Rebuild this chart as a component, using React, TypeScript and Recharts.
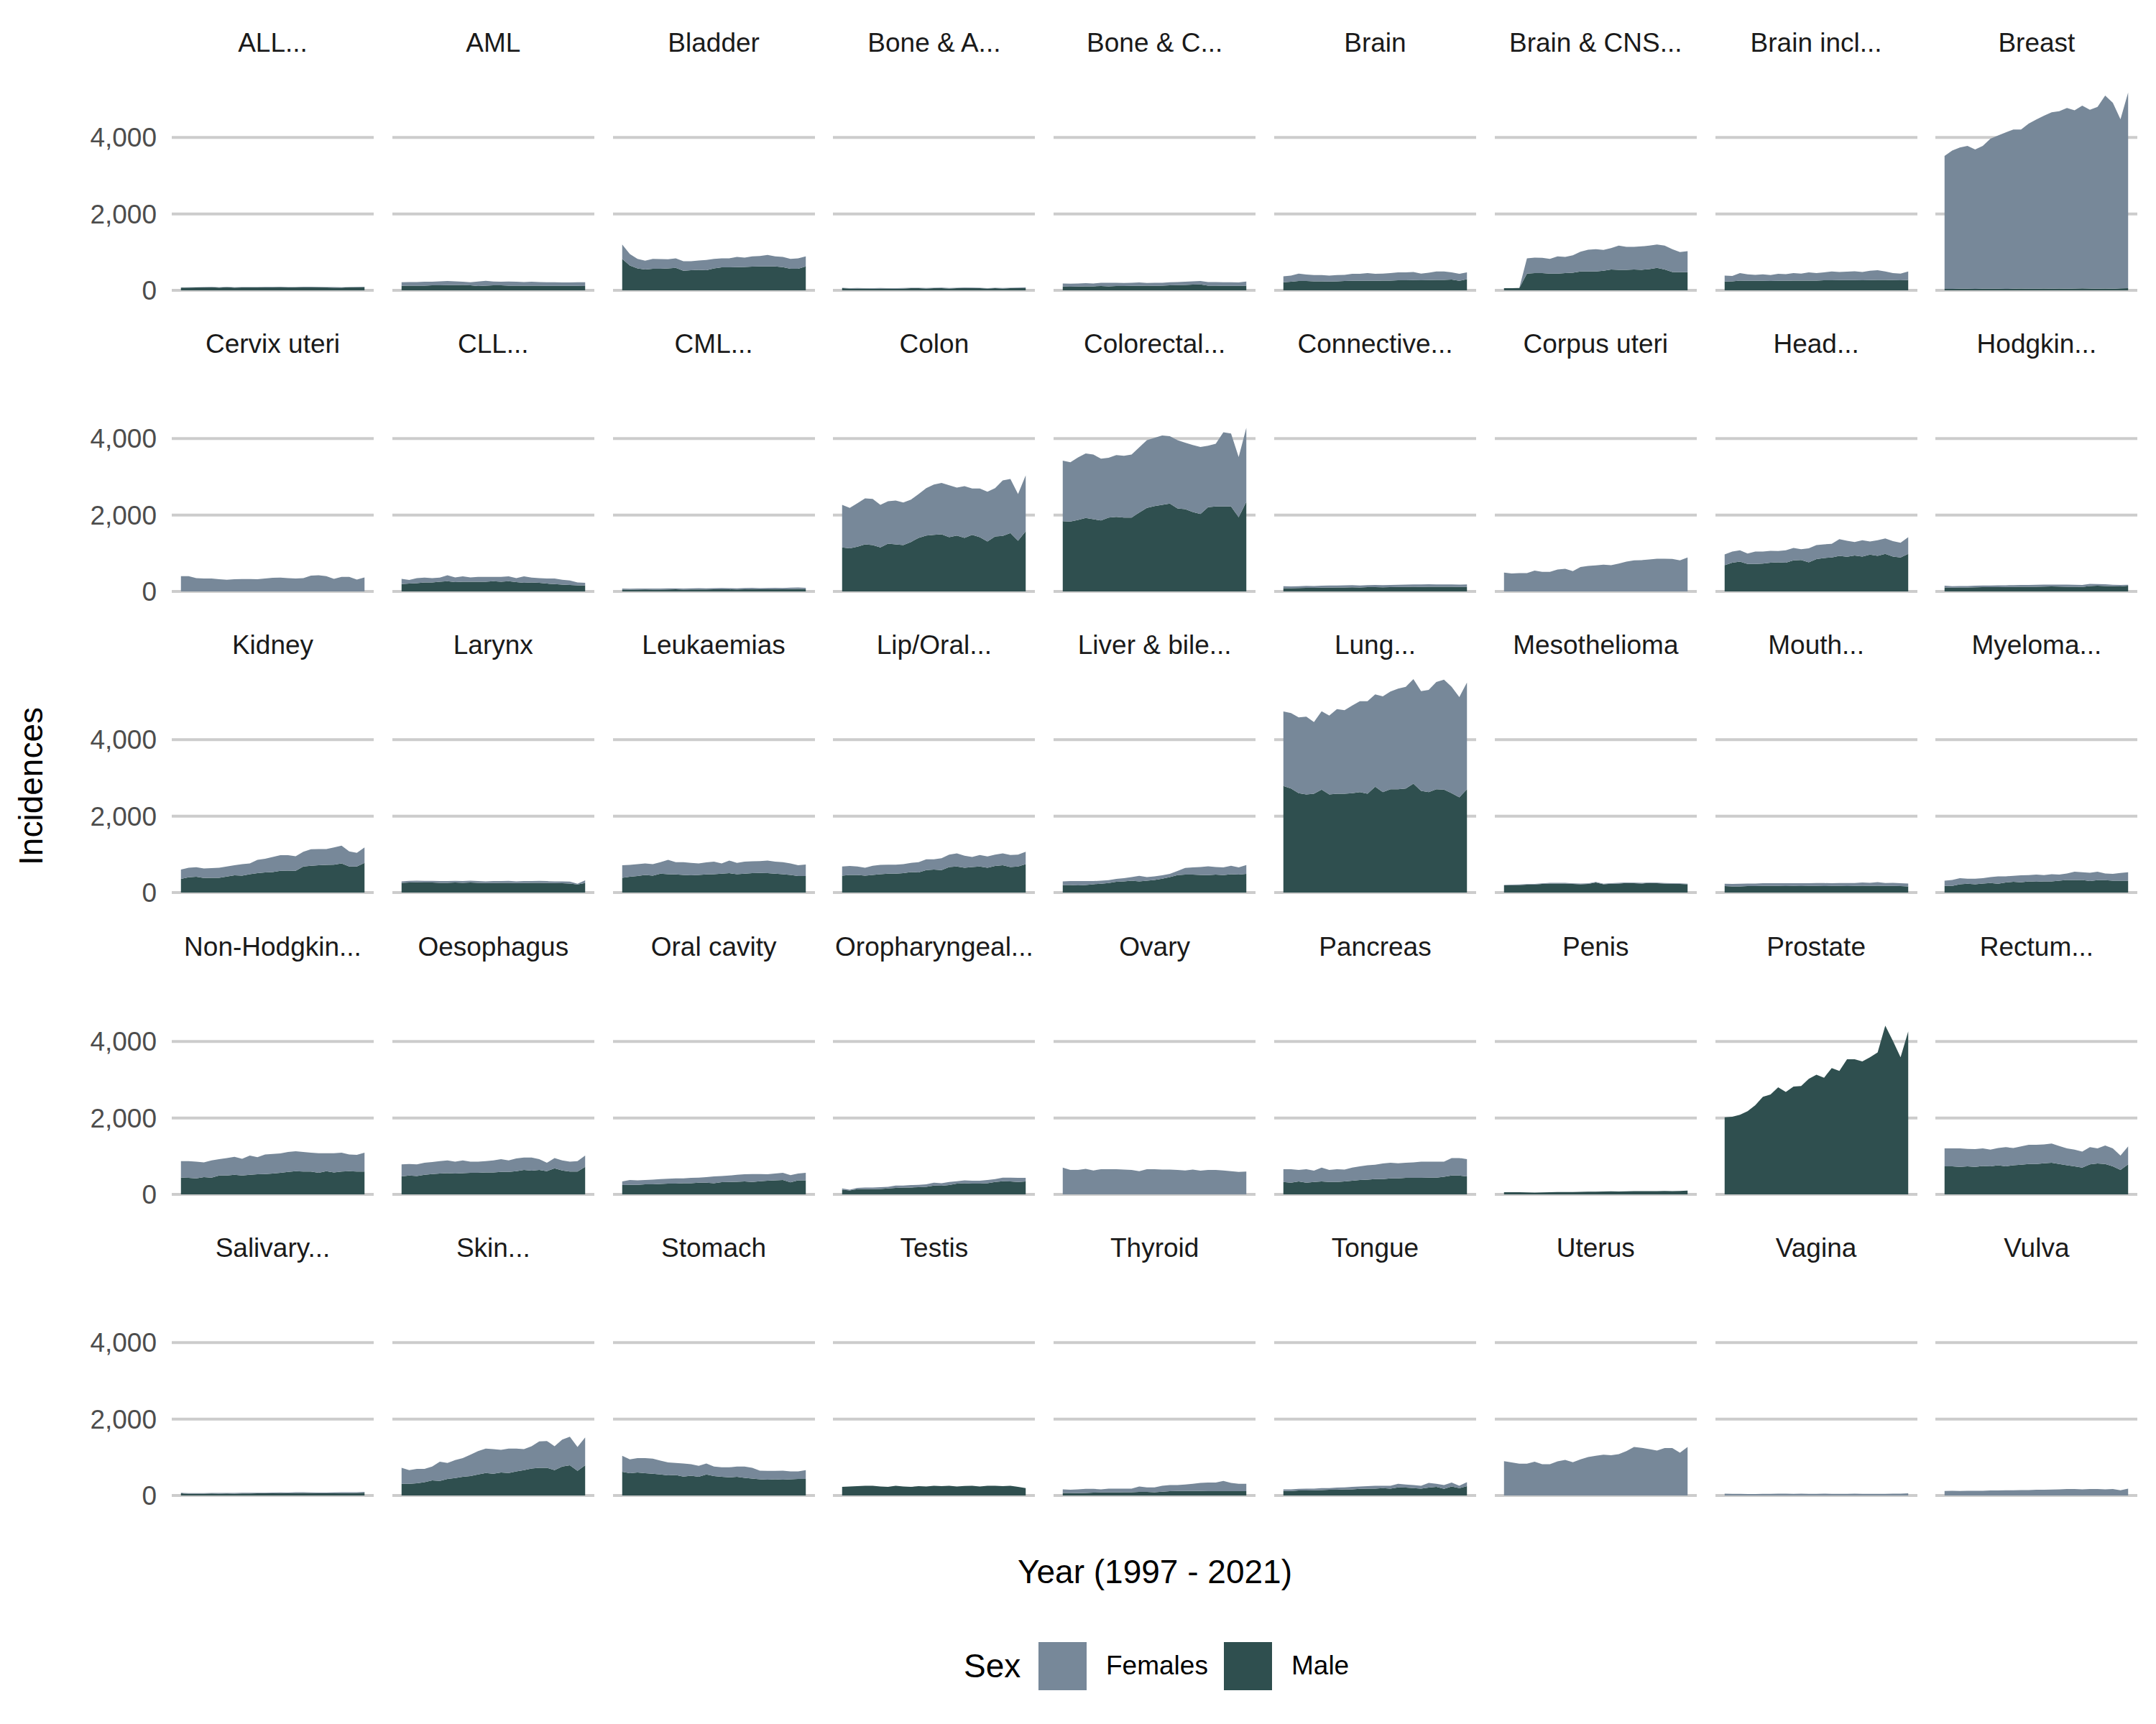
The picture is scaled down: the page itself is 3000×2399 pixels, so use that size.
import { Area, AreaChart, CartesianGrid, XAxis, YAxis } from "recharts"

const years = [
  1997, 1998, 1999, 2000, 2001, 2002, 2003, 2004, 2005, 2006, 2007, 2008, 2009,
  2010, 2011, 2012, 2013, 2014, 2015, 2016, 2017, 2018, 2019, 2020, 2021,
]

// incidences per year (Male = bottom of stack, Females = top)
const allMale = [70, 72, 75, 78, 80, 74, 82, 72, 78, 76, 78, 80, 82, 84, 78, 80, 86, 88, 82, 78, 74, 72, 80, 82, 84]
const allFemale = [8, 10, 8, 9, 10, 8, 9, 10, 8, 9, 10, 9, 8, 10, 9, 8, 10, 9, 8, 9, 10, 9, 8, 9, 10]
const amlMale = [119, 125, 125, 125, 131, 131, 138, 138, 144, 131, 113, 125, 131, 131, 125, 125, 125, 125, 125, 119, 119, 119, 119, 119, 113]
const amlFemale = [94, 94, 94, 100, 94, 107, 106, 100, 81, 82, 119, 125, 101, 94, 107, 100, 94, 100, 94, 94, 94, 88, 88, 94, 100]
const bladderMale = [826, 651, 576, 545, 563, 563, 576, 588, 513, 526, 538, 526, 576, 601, 601, 607, 613, 620, 626, 626, 626, 607, 563, 563, 626]
const bladderFemale = [376, 300, 250, 231, 263, 257, 238, 251, 251, 238, 245, 269, 250, 238, 238, 269, 245, 269, 275, 300, 263, 269, 263, 276, 263]
const boneAMale = [56, 50, 50, 50, 44, 50, 50, 44, 50, 56, 56, 50, 56, 56, 50, 56, 63, 56, 56, 50, 56, 50, 56, 56, 63]
const boneAFemale = [12, 10, 12, 10, 12, 14, 10, 12, 14, 12, 10, 12, 12, 14, 12, 10, 12, 14, 12, 10, 12, 14, 12, 14, 16]
const boneCMale = [100, 94, 100, 106, 106, 113, 106, 113, 113, 119, 119, 125, 119, 125, 131, 138, 144, 150, 156, 125, 125, 119, 119, 119, 125]
const boneCFemale = [81, 81, 81, 82, 75, 87, 94, 87, 81, 81, 88, 69, 81, 75, 82, 81, 81, 88, 88, 94, 94, 94, 94, 88, 106]
const brainMale = [213, 225, 244, 244, 238, 238, 232, 238, 244, 250, 250, 250, 250, 257, 257, 263, 263, 269, 263, 269, 275, 275, 282, 250, 294]
const brainFemale = [156, 163, 194, 169, 163, 163, 156, 163, 163, 182, 182, 201, 182, 181, 194, 207, 207, 213, 175, 194, 220, 220, 188, 182, 176]
const brainCnsMale = [60, 58, 62, 438, 451, 451, 438, 438, 451, 463, 495, 495, 495, 513, 545, 538, 538, 545, 538, 557, 588, 545, 482, 476, 476]
const brainCnsFemale = [0, 0, 0, 401, 407, 400, 388, 451, 425, 457, 519, 569, 582, 545, 563, 633, 601, 594, 614, 614, 614, 626, 595, 526, 551]
const brainInclMale = [231, 238, 257, 250, 250, 250, 244, 250, 250, 257, 257, 257, 257, 263, 263, 269, 269, 269, 263, 269, 275, 275, 269, 263, 275]
const brainInclFemale = [157, 138, 194, 169, 157, 169, 157, 182, 176, 194, 181, 213, 194, 207, 232, 213, 219, 232, 219, 244, 251, 220, 182, 175, 220]
const breastMale = [40, 38, 42, 45, 40, 42, 44, 46, 40, 42, 48, 44, 45, 50, 46, 48, 44, 50, 52, 48, 46, 50, 44, 54, 56]
const breastFemale = [3478, 3618, 3695, 3736, 3647, 3739, 3925, 4004, 4092, 4165, 4159, 4319, 4425, 4520, 4611, 4641, 4726, 4658, 4781, 4678, 4755, 5046, 4864, 4422, 5121]

const cervixFemale = [401, 401, 351, 338, 338, 319, 307, 319, 326, 326, 319, 338, 357, 363, 351, 338, 351, 413, 426, 401, 332, 382, 382, 313, 369]
const cllMale = [194, 207, 219, 238, 238, 257, 269, 244, 257, 257, 257, 257, 269, 257, 269, 244, 225, 238, 225, 207, 194, 182, 169, 163, 156]
const cllFemale = [138, 93, 132, 125, 113, 106, 157, 125, 137, 112, 125, 125, 113, 125, 125, 106, 169, 125, 125, 131, 144, 125, 119, 75, 69]
const cmlMale = [50, 48, 50, 52, 50, 50, 52, 56, 50, 52, 54, 52, 56, 60, 56, 54, 58, 62, 56, 60, 62, 58, 64, 66, 62]
const cmlFemale = [25, 25, 25, 25, 25, 26, 28, 26, 28, 27, 30, 28, 30, 32, 30, 28, 32, 34, 30, 32, 34, 32, 36, 38, 34]
const colonMale = [1152, 1127, 1171, 1233, 1214, 1152, 1252, 1233, 1214, 1296, 1402, 1465, 1484, 1496, 1421, 1465, 1402, 1484, 1421, 1308, 1440, 1452, 1527, 1327, 1578]
const colonFemale = [1114, 1058, 1139, 1202, 1209, 1114, 1108, 1146, 1115, 1108, 1146, 1239, 1314, 1346, 1358, 1252, 1352, 1208, 1271, 1302, 1264, 1453, 1415, 1221, 1458]
const colorectalMale = [1840, 1828, 1872, 1922, 1891, 1859, 1934, 1953, 1934, 1934, 2066, 2185, 2235, 2266, 2298, 2172, 2153, 2078, 2028, 2204, 2222, 2222, 2222, 1940, 2348]
const colorectalFemale = [1584, 1552, 1634, 1690, 1690, 1615, 1565, 1615, 1615, 1647, 1703, 1771, 1784, 1816, 1765, 1784, 1741, 1753, 1753, 1608, 1640, 1941, 1910, 1578, 1934]
const connectiveMale = [88, 85, 90, 94, 94, 100, 100, 106, 106, 110, 106, 113, 113, 110, 113, 119, 119, 125, 119, 125, 125, 122, 122, 119, 125]
const connectiveFemale = [50, 48, 50, 52, 50, 52, 55, 52, 55, 56, 52, 54, 56, 55, 58, 58, 60, 62, 66, 64, 62, 64, 62, 60, 62]
const corpusFemale = [495, 470, 482, 482, 545, 513, 513, 576, 595, 532, 639, 670, 682, 701, 689, 732, 783, 814, 820, 839, 858, 858, 851, 814, 889]
const headMale = [689, 751, 783, 720, 720, 732, 751, 764, 751, 814, 826, 764, 845, 876, 889, 933, 908, 939, 914, 964, 933, 983, 914, 889, 983]
const headFemale = [281, 294, 294, 275, 325, 313, 313, 294, 326, 325, 282, 363, 369, 357, 357, 438, 419, 357, 426, 344, 407, 407, 401, 388, 438]
const hodgkinMale = [106, 100, 106, 106, 110, 113, 113, 116, 119, 119, 122, 125, 125, 128, 131, 128, 125, 122, 119, 144, 150, 144, 138, 131, 150]
const hodgkinFemale = [44, 38, 38, 38, 40, 43, 43, 44, 44, 47, 47, 47, 50, 50, 50, 53, 53, 53, 50, 56, 44, 44, 37, 38, 25]

const kidneyMale = [357, 401, 413, 382, 388, 388, 419, 451, 444, 482, 507, 526, 538, 570, 576, 570, 682, 701, 714, 726, 732, 764, 682, 682, 776]
const kidneyFemale = [244, 250, 251, 250, 251, 263, 263, 263, 301, 282, 351, 357, 395, 407, 401, 382, 388, 432, 425, 413, 451, 463, 395, 357, 407]
const larynxMale = [257, 263, 269, 263, 263, 257, 257, 263, 257, 263, 257, 250, 250, 257, 257, 250, 250, 257, 257, 250, 250, 244, 238, 213, 250]
const larynxFemale = [37, 44, 44, 44, 44, 43, 43, 44, 43, 50, 43, 44, 50, 43, 50, 44, 50, 43, 50, 50, 44, 50, 50, 19, 70]
const leukMale = [388, 413, 432, 463, 444, 495, 482, 476, 463, 451, 463, 476, 482, 495, 507, 482, 495, 507, 513, 507, 495, 482, 463, 432, 432]
const leukFemale = [326, 313, 313, 301, 301, 300, 376, 319, 332, 325, 301, 313, 326, 269, 332, 294, 313, 313, 313, 332, 313, 313, 301, 282, 301]
const lipMale = [444, 463, 463, 444, 463, 482, 495, 495, 507, 538, 526, 588, 601, 588, 670, 682, 651, 670, 682, 651, 695, 714, 670, 682, 745]
const lipFemale = [238, 232, 219, 207, 238, 244, 237, 237, 238, 238, 269, 282, 269, 313, 325, 345, 313, 263, 301, 294, 300, 313, 313, 313, 325]
const liverMale = [200, 200, 188, 200, 219, 232, 250, 282, 294, 313, 294, 313, 332, 363, 407, 457, 470, 470, 463, 457, 470, 457, 482, 470, 488]
const liverFemale = [94, 100, 112, 100, 81, 81, 76, 75, 82, 94, 144, 94, 94, 88, 81, 106, 175, 187, 207, 232, 200, 200, 219, 187, 232]
const lungMale = [2786, 2723, 2598, 2567, 2585, 2692, 2567, 2585, 2585, 2598, 2629, 2585, 2767, 2629, 2704, 2704, 2723, 2848, 2661, 2629, 2704, 2692, 2598, 2491, 2704]
const lungFemale = [1953, 1972, 1984, 2034, 1878, 2053, 2065, 2216, 2185, 2297, 2379, 2423, 2416, 2504, 2554, 2630, 2661, 2736, 2610, 2673, 2805, 2879, 2786, 2623, 2792]
const mesoMale = [188, 194, 200, 207, 213, 225, 238, 238, 238, 225, 219, 225, 263, 219, 232, 238, 250, 244, 238, 250, 244, 238, 232, 225, 219]
const mesoFemale = [12, 12, 14, 14, 14, 15, 15, 16, 15, 15, 16, 15, 16, 15, 16, 15, 16, 15, 16, 14, 15, 14, 15, 14, 14]
const mouthMale = [169, 163, 163, 169, 169, 175, 175, 175, 169, 175, 169, 175, 175, 169, 175, 175, 169, 175, 182, 175, 182, 175, 175, 169, 163]
const mouthFemale = [63, 62, 69, 69, 69, 69, 69, 69, 75, 69, 75, 69, 75, 81, 69, 75, 81, 75, 81, 82, 93, 75, 82, 75, 75]
const myelomaMale = [175, 175, 219, 232, 219, 238, 250, 232, 263, 282, 269, 294, 282, 294, 294, 313, 332, 326, 332, 300, 326, 326, 313, 313, 313]
const myelomaFemale = [138, 157, 157, 131, 144, 138, 157, 194, 163, 156, 182, 163, 188, 163, 188, 157, 169, 219, 200, 220, 219, 175, 175, 200, 219]

const nhlMale = [439, 433, 420, 451, 439, 495, 495, 514, 495, 514, 527, 533, 545, 564, 589, 608, 596, 596, 564, 608, 577, 596, 608, 596, 596]
const nhlFemale = [432, 438, 439, 389, 451, 427, 458, 470, 439, 502, 445, 514, 515, 508, 521, 521, 514, 495, 514, 470, 501, 495, 439, 439, 495]
const oesoMale = [470, 495, 483, 514, 533, 545, 558, 545, 558, 564, 564, 577, 577, 589, 589, 608, 640, 621, 640, 608, 683, 627, 596, 596, 721]
const oesoFemale = [314, 301, 301, 314, 313, 327, 332, 314, 332, 295, 295, 295, 313, 333, 301, 332, 325, 344, 282, 220, 270, 263, 263, 276, 295]
const oralMale = [245, 251, 251, 263, 263, 276, 282, 282, 295, 295, 307, 307, 295, 320, 326, 332, 339, 326, 345, 357, 370, 376, 314, 370, 370]
const oralFemale = [94, 125, 119, 113, 126, 125, 126, 138, 125, 138, 132, 144, 175, 163, 169, 182, 188, 207, 188, 170, 175, 188, 188, 175, 194]
const oroMale = [125, 107, 138, 138, 138, 144, 157, 169, 182, 182, 188, 201, 232, 226, 245, 282, 295, 282, 282, 295, 326, 345, 339, 326, 339]
const oroFemale = [32, 18, 31, 44, 44, 44, 44, 63, 50, 63, 63, 62, 75, 69, 81, 63, 75, 75, 75, 81, 75, 94, 100, 107, 94]
const ovaryFemale = [702, 640, 640, 671, 627, 658, 658, 658, 652, 640, 608, 658, 658, 652, 652, 640, 627, 652, 621, 640, 640, 627, 608, 589, 596]
const pancreasMale = [326, 307, 339, 307, 326, 339, 326, 326, 339, 357, 376, 389, 401, 401, 420, 420, 433, 433, 433, 439, 439, 464, 495, 495, 470]
const pancreasFemale = [332, 351, 301, 351, 295, 363, 314, 332, 313, 345, 358, 376, 376, 408, 408, 395, 395, 407, 426, 420, 420, 395, 458, 458, 452]
const penisMale = [60, 58, 56, 54, 50, 52, 58, 62, 64, 64, 66, 70, 72, 78, 80, 78, 82, 86, 84, 88, 86, 90, 84, 90, 100]
const prostateMale = [2019, 2031, 2082, 2176, 2332, 2552, 2615, 2803, 2678, 2822, 2834, 3022, 3129, 3053, 3304, 3229, 3536, 3536, 3480, 3587, 3712, 4414, 4013, 3587, 4264]
const rectumMale = [734, 734, 721, 734, 721, 746, 734, 765, 734, 765, 777, 796, 796, 815, 828, 796, 765, 734, 702, 784, 809, 796, 734, 640, 784]
const rectumFemale = [470, 470, 483, 457, 464, 458, 438, 451, 501, 451, 477, 502, 502, 495, 501, 470, 439, 438, 420, 451, 395, 483, 470, 376, 470]

const salivaryMale = [56, 50, 48, 50, 52, 50, 52, 50, 54, 52, 56, 58, 60, 62, 60, 64, 66, 62, 60, 58, 60, 62, 64, 66, 70]
const salivaryFemale = [14, 14, 16, 14, 16, 16, 15, 16, 16, 18, 18, 16, 18, 20, 18, 20, 22, 20, 18, 18, 20, 22, 20, 22, 24]
const skinMale = [307, 307, 319, 351, 394, 382, 432, 457, 488, 507, 551, 588, 570, 601, 588, 632, 664, 707, 726, 726, 664, 757, 789, 645, 789]
const skinFemale = [419, 357, 376, 344, 363, 501, 419, 469, 489, 563, 613, 639, 644, 595, 639, 595, 550, 583, 689, 701, 626, 708, 751, 626, 732]
const stomachMale = [620, 582, 601, 582, 570, 551, 526, 538, 495, 520, 488, 551, 507, 488, 476, 488, 463, 444, 426, 413, 426, 413, 426, 432, 432]
const stomachFemale = [419, 363, 376, 395, 394, 363, 338, 313, 344, 300, 288, 288, 250, 251, 263, 269, 294, 282, 225, 232, 219, 238, 206, 200, 232]
const testisMale = [225, 238, 244, 257, 257, 238, 225, 257, 238, 225, 244, 238, 257, 244, 257, 238, 250, 257, 238, 257, 257, 244, 257, 225, 194]
const thyroidMale = [69, 69, 63, 69, 75, 81, 81, 81, 88, 88, 94, 94, 88, 100, 113, 119, 119, 119, 119, 113, 113, 113, 113, 113, 113]
const thyroidFemale = [94, 81, 100, 106, 100, 82, 101, 101, 94, 94, 144, 119, 125, 157, 162, 156, 169, 188, 213, 225, 225, 269, 219, 194, 194]
const tongueMale = [119, 119, 131, 131, 138, 144, 150, 150, 163, 163, 175, 182, 182, 194, 182, 213, 207, 194, 182, 207, 225, 175, 238, 194, 244]
const tongueFemale = [44, 44, 44, 51, 44, 50, 44, 57, 50, 62, 63, 62, 75, 63, 75, 94, 81, 81, 75, 125, 82, 100, 100, 63, 107]
const uterusFemale = [901, 864, 833, 833, 883, 820, 820, 895, 933, 870, 945, 1008, 1039, 1070, 1052, 1083, 1164, 1271, 1246, 1214, 1177, 1240, 1240, 1121, 1271]
const vaginaFemale = [50, 44, 44, 40, 38, 44, 44, 50, 50, 44, 50, 44, 44, 50, 44, 44, 44, 50, 44, 44, 44, 44, 50, 50, 56]
const vulvaFemale = [119, 125, 119, 125, 125, 125, 131, 131, 138, 138, 144, 144, 150, 150, 157, 163, 169, 169, 163, 169, 169, 163, 169, 138, 182]

const yTicks = [0, 2000, 4000]

type Panel = { title: string; male?: number[]; female?: number[] }

const panels: Panel[] = [
  { title: "ALL...", male: allMale, female: allFemale },
  { title: "AML", male: amlMale, female: amlFemale },
  { title: "Bladder", male: bladderMale, female: bladderFemale },
  { title: "Bone & A...", male: boneAMale, female: boneAFemale },
  { title: "Bone & C...", male: boneCMale, female: boneCFemale },
  { title: "Brain", male: brainMale, female: brainFemale },
  { title: "Brain & CNS...", male: brainCnsMale, female: brainCnsFemale },
  { title: "Brain incl...", male: brainInclMale, female: brainInclFemale },
  { title: "Breast", male: breastMale, female: breastFemale },
  { title: "Cervix uteri", female: cervixFemale },
  { title: "CLL...", male: cllMale, female: cllFemale },
  { title: "CML...", male: cmlMale, female: cmlFemale },
  { title: "Colon", male: colonMale, female: colonFemale },
  { title: "Colorectal...", male: colorectalMale, female: colorectalFemale },
  { title: "Connective...", male: connectiveMale, female: connectiveFemale },
  { title: "Corpus uteri", female: corpusFemale },
  { title: "Head...", male: headMale, female: headFemale },
  { title: "Hodgkin...", male: hodgkinMale, female: hodgkinFemale },
  { title: "Kidney", male: kidneyMale, female: kidneyFemale },
  { title: "Larynx", male: larynxMale, female: larynxFemale },
  { title: "Leukaemias", male: leukMale, female: leukFemale },
  { title: "Lip/Oral...", male: lipMale, female: lipFemale },
  { title: "Liver & bile...", male: liverMale, female: liverFemale },
  { title: "Lung...", male: lungMale, female: lungFemale },
  { title: "Mesothelioma", male: mesoMale, female: mesoFemale },
  { title: "Mouth...", male: mouthMale, female: mouthFemale },
  { title: "Myeloma...", male: myelomaMale, female: myelomaFemale },
  { title: "Non-Hodgkin...", male: nhlMale, female: nhlFemale },
  { title: "Oesophagus", male: oesoMale, female: oesoFemale },
  { title: "Oral cavity", male: oralMale, female: oralFemale },
  { title: "Oropharyngeal...", male: oroMale, female: oroFemale },
  { title: "Ovary", female: ovaryFemale },
  { title: "Pancreas", male: pancreasMale, female: pancreasFemale },
  { title: "Penis", male: penisMale },
  { title: "Prostate", male: prostateMale },
  { title: "Rectum...", male: rectumMale, female: rectumFemale },
  { title: "Salivary...", male: salivaryMale, female: salivaryFemale },
  { title: "Skin...", male: skinMale, female: skinFemale },
  { title: "Stomach", male: stomachMale, female: stomachFemale },
  { title: "Testis", male: testisMale },
  { title: "Thyroid", male: thyroidMale, female: thyroidFemale },
  { title: "Tongue", male: tongueMale, female: tongueFemale },
  { title: "Uterus", female: uterusFemale },
  { title: "Vagina", female: vaginaFemale },
  { title: "Vulva", female: vulvaFemale },
]

const FONT = '"Liberation Sans", Arial, Helvetica, sans-serif'
const FEMALE = "#778899"
const MALE = "#2F4F4F"

// facet geometry (px)
const PANEL_LEFT = 239
const COL_STEP = 306.8
const PANEL_W = 281
const ZERO_TOP = 403.6
const ROW_STEP = 419.4
const PX_PER_UNIT = 0.0532
const Y_MAX = 5885
const Y_MIN = -280
const PLOT_H = (Y_MAX - Y_MIN) * PX_PER_UNIT
const PAD_BOTTOM = 24
const AXIS_W = 150
const NCOL = 9

function SmallMultiple({ panel, index }: { panel: Panel; index: number }) {
  const row = Math.floor(index / NCOL)
  const col = index % NCOL
  const data = years.map((year, i) => ({
    year,
    male: panel.male ? panel.male[i] : undefined,
    female: panel.female ? panel.female[i] : undefined,
  }))
  const left = PANEL_LEFT + col * COL_STEP
  const zero = ZERO_TOP + row * ROW_STEP
  const top = zero - Y_MAX * PX_PER_UNIT
  const withAxis = col === 0
  const axisW = withAxis ? AXIS_W : 0

  return (
    <div style={{ position: "absolute", left: left - axisW, top, width: PANEL_W + axisW, height: PLOT_H + PAD_BOTTOM }}>
      <AreaChart
        width={PANEL_W + axisW}
        height={PLOT_H + PAD_BOTTOM}
        data={data}
        margin={{ top: 0, right: 0, bottom: PAD_BOTTOM, left: 0 }}
      >
        <CartesianGrid vertical={false} horizontalValues={yTicks} stroke="#CCCCCC" strokeWidth={4} />
        <XAxis dataKey="year" type="number" domain={[1995.8, 2022.2]} hide />
        <YAxis
          type="number"
          domain={[Y_MIN, Y_MAX]}
          ticks={yTicks}
          interval={0}
          hide={!withAxis}
          width={AXIS_W}
          axisLine={false}
          tickLine={false}
          tickSize={0}
          tickMargin={21}
          tick={{ fill: "#4D4D4D", fontSize: 37, fontFamily: FONT }}
          tickFormatter={(v: number) => v.toLocaleString("en-US")}
        />
        {panel.male && (
          <Area
            type="linear"
            dataKey="male"
            stackId="sex"
            fill={MALE}
            fillOpacity={1}
            stroke="none"
            isAnimationActive={false}
          />
        )}
        {panel.female && (
          <Area
            type="linear"
            dataKey="female"
            stackId="sex"
            fill={FEMALE}
            fillOpacity={1}
            stroke="none"
            isAnimationActive={false}
          />
        )}
      </AreaChart>
    </div>
  )
}

export default function App() {
  return (
    <div style={{ position: "absolute", left: 0, top: 0, width: 3000, height: 2399, background: "#fff" }}>
      <svg width={3000} height={2399} style={{ position: "absolute", left: 0, top: 0 }} fontFamily={FONT}>
        {panels.map((p, i) => {
          const row = Math.floor(i / NCOL)
          const col = i % NCOL
          return (
            <text
              key={p.title}
              x={PANEL_LEFT + col * COL_STEP + PANEL_W / 2}
              y={ZERO_TOP + row * ROW_STEP - 332}
              textAnchor="middle"
              fontSize={37}
              fill="#1A1A1A"
            >
              {p.title}
            </text>
          )
        })}
        <text transform="translate(59,1094) rotate(-90)" textAnchor="middle" fontSize={46} fill="#000">
          Incidences
        </text>
        <text x={1607} y={2203} textAnchor="middle" fontSize={46} fill="#000">
          Year (1997 - 2021)
        </text>
        <text x={1341} y={2334} fontSize={46} fill="#000">
          Sex
        </text>
        <rect x={1445} y={2285} width={67} height={67} fill={FEMALE} />
        <text x={1539} y={2330} fontSize={37} fill="#000">
          Females
        </text>
        <rect x={1703} y={2285} width={67} height={67} fill={MALE} />
        <text x={1797} y={2330} fontSize={37} fill="#000">
          Male
        </text>
      </svg>
      {panels.map((p, i) => (
        <SmallMultiple key={p.title} panel={p} index={i} />
      ))}
    </div>
  )
}
